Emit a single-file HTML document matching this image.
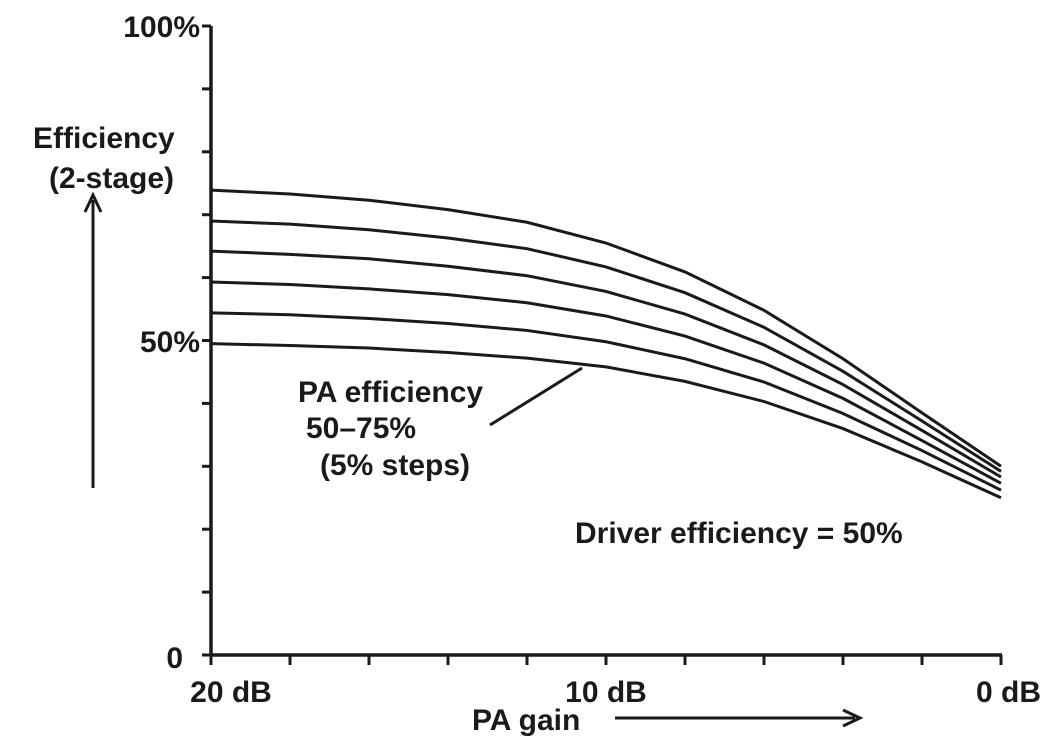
<!DOCTYPE html>
<html><head><meta charset="utf-8"><style>
body{margin:0;background:#fff}
svg text{font-family:"Liberation Sans",Arial,sans-serif;font-weight:bold;fill:#1a1a1a}
</style></head><body>
<svg width="1050" height="738" viewBox="0 0 1050 738">
<g id="axes"></g>
<g id="curves"></g>
<g font-size="30">
<text x="200" y="37" text-anchor="end">100%</text>
<text x="200" y="352" text-anchor="end">50%</text>
<text x="183" y="668" text-anchor="end">0</text>
<text x="231" y="702" text-anchor="middle">20 dB</text>
<text x="606" y="702" text-anchor="middle">10 dB</text>
<text x="1041" y="702" text-anchor="end">0 dB</text>
<text x="472" y="730">PA gain</text>
<text x="33" y="148">Efficiency</text>
<text x="49" y="188">(2-stage)</text>
<text x="298" y="402">PA efficiency</text>
<text x="306" y="438">50–75%</text>
<text x="320" y="475">(5% steps)</text>
<text x="575" y="543">Driver efficiency = 50%</text>
</g>
<line x1="490" y1="425" x2="582" y2="368" stroke="#1a1a1a" stroke-width="3"/>
<line x1="93" y1="488" x2="93" y2="200" stroke="#1a1a1a" stroke-width="3"/>
<polyline points="85,212 93,195 101,212" fill="none" stroke="#1a1a1a" stroke-width="3"/>
<line x1="615" y1="718" x2="855" y2="718" stroke="#1a1a1a" stroke-width="3"/>
<polyline points="843,710 860,718 843,726" fill="none" stroke="#1a1a1a" stroke-width="3"/>
</svg>
<script>
const gainsDb=[20,18,16,14,12,10,8,6,4,2,0];
const paEff50=[49.5,49.2,48.8,48.1,47.2,45.8,43.5,40.3,36.0,30.7,25.0];
const paEff55=[54.4,54.1,53.5,52.7,51.6,49.8,47.1,43.4,38.4,32.5,26.2];
const paEff60=[59.3,58.9,58.2,57.3,56.0,53.9,50.7,46.4,40.8,34.1,27.3];
const paEff65=[64.2,63.7,63.0,61.8,60.3,57.8,54.2,49.3,43.0,35.7,28.3];
const paEff70=[69.0,68.5,67.6,66.3,64.6,61.7,57.6,52.1,45.1,37.2,29.2];
const paEff75=[73.9,73.3,72.3,70.8,68.8,65.5,60.9,54.8,47.1,38.5,30.0];
const yTicks=[0,10,20,30,40,50,60,70,80,90,100];
const xTicks=[20,18,16,14,12,10,8,6,4,2,0];
const NS='http://www.w3.org/2000/svg';
const xS=d=>211+(20-d)*(1001-211)/20;
const yS=v=>655-v*(655-26)/100;
const ax=document.getElementById('axes'),cv=document.getElementById('curves');
function ln(g,x1,y1,x2,y2,w){const l=document.createElementNS(NS,'line');l.setAttribute('x1',x1);l.setAttribute('y1',y1);l.setAttribute('x2',x2);l.setAttribute('y2',y2);l.setAttribute('stroke','#1a1a1a');l.setAttribute('stroke-width',w);g.appendChild(l);return l;}
let a=ln(ax,211,yS(100),211,656.5,3.5);


a=ln(ax,209.5,655,1002,655,3.5);


yTicks.forEach(v=>{const t=ln(ax,202,yS(v),211,yS(v),3);

});
xTicks.forEach(d=>{const t=ln(ax,xS(d),655,xS(d),665,3);

});
[[paEff50,'curve-pa-50'],[paEff55,'curve-pa-55'],[paEff60,'curve-pa-60'],[paEff65,'curve-pa-65'],[paEff70,'curve-pa-70'],[paEff75,'curve-pa-75']].forEach(([s,n])=>{
const p=document.createElementNS(NS,'polyline');
p.setAttribute('points',s.map((v,i)=>xS(gainsDb[i])+','+yS(v)).join(' '));
p.setAttribute('fill','none');p.setAttribute('stroke','#1a1a1a');p.setAttribute('stroke-width','3');


cv.appendChild(p);});
</script>
</body></html>
